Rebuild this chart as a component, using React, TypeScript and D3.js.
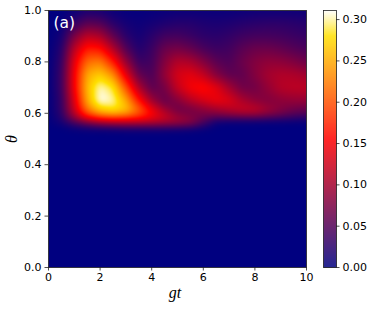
import { useEffect, useRef } from 'react';
import * as d3 from 'd3';

const gtValues = [0, 0.5, 1, 1.5, 2, 2.5, 3, 3.5, 4, 4.5, 5, 5.5, 6, 6.5, 7, 7.5, 8, 8.5, 9, 9.5, 10];
const thetaValues = [1, 0.95, 0.9, 0.85, 0.8, 0.75, 0.7, 0.65, 0.62, 0.6, 0.58, 0.56, 0.54, 0.52, 0];

// one row per theta, one column per gt
const row100 = [0, 0, 0.006, 0.014, 0.012, 0.006, 0.003, 0.003, 0.004, 0.005, 0.006, 0.006, 0.006, 0.006, 0.006, 0.007, 0.008, 0.008, 0.008, 0.008, 0.008];
const row95 = [0, 0.004, 0.03, 0.055, 0.05, 0.025, 0.012, 0.008, 0.012, 0.018, 0.022, 0.022, 0.018, 0.016, 0.018, 0.022, 0.025, 0.027, 0.027, 0.025, 0.022];
const row90 = [0, 0.012, 0.075, 0.115, 0.105, 0.06, 0.025, 0.012, 0.025, 0.04, 0.042, 0.035, 0.027, 0.025, 0.03, 0.038, 0.042, 0.042, 0.04, 0.036, 0.032];
const row85 = [0, 0.022, 0.115, 0.17, 0.165, 0.11, 0.05, 0.02, 0.035, 0.065, 0.072, 0.062, 0.045, 0.036, 0.04, 0.055, 0.065, 0.066, 0.06, 0.052, 0.045];
const row80 = [0, 0.03, 0.14, 0.215, 0.225, 0.17, 0.09, 0.035, 0.04, 0.08, 0.11, 0.105, 0.08, 0.055, 0.047, 0.065, 0.08, 0.088, 0.086, 0.078, 0.066];
const row75 = [0, 0.035, 0.15, 0.25, 0.27, 0.235, 0.14, 0.06, 0.045, 0.09, 0.13, 0.14, 0.12, 0.08, 0.058, 0.058, 0.08, 0.1, 0.108, 0.106, 0.098];
const row70 = [0, 0.035, 0.15, 0.26, 0.305, 0.285, 0.2, 0.105, 0.055, 0.07, 0.12, 0.15, 0.16, 0.14, 0.1, 0.068, 0.068, 0.09, 0.11, 0.115, 0.115];
const row65 = [0, 0.03, 0.135, 0.25, 0.312, 0.302, 0.25, 0.165, 0.095, 0.06, 0.08, 0.11, 0.13, 0.145, 0.135, 0.105, 0.085, 0.078, 0.085, 0.09, 0.09];
const row62 = [0, 0.03, 0.125, 0.225, 0.275, 0.285, 0.265, 0.205, 0.14, 0.09, 0.065, 0.075, 0.09, 0.105, 0.115, 0.12, 0.115, 0.095, 0.08, 0.07, 0.065];
const row60 = [0, 0.025, 0.11, 0.195, 0.24, 0.255, 0.24, 0.2, 0.155, 0.115, 0.08, 0.07, 0.075, 0.08, 0.09, 0.1, 0.1, 0.085, 0.07, 0.055, 0.05];
const row58 = [0, 0.02, 0.08, 0.135, 0.165, 0.175, 0.17, 0.16, 0.14, 0.12, 0.1, 0.085, 0.06, 0.04, 0.04, 0.04, 0.04, 0.035, 0.03, 0.025, 0.02];
const row56 = [0, 0.01, 0.035, 0.06, 0.08, 0.09, 0.095, 0.095, 0.095, 0.09, 0.085, 0.075, 0.04, 0.005, 0, 0, 0, 0, 0, 0, 0];
const row54 = [0, 0, 0.005, 0.01, 0.012, 0.015, 0.018, 0.018, 0.018, 0.018, 0.016, 0.012, 0.005, 0, 0, 0, 0, 0, 0, 0, 0];
const row52 = gtValues.map(() => 0);
const row0 = gtValues.map(() => 0);
const grid = [row100, row95, row90, row85, row80, row75, row70, row65, row62, row60, row58, row56, row54, row52, row0];

const colorStops = [0, 0.155, 0.28, 0.311];
const colorNames = ['#000080', '#ff0000', '#ffe000', '#ffffff'];

const xTicks = [0, 2, 4, 6, 8, 10];
const yTicks = [0, 0.2, 0.4, 0.6, 0.8, 1];
const barTicks = [0, 0.05, 0.1, 0.15, 0.2, 0.25, 0.3];

const font = '"DejaVu Sans"';
const mathFont = '"Liberation Serif"';

const gtIndex = d3.scaleLinear().domain(gtValues).range(gtValues.map((_, i) => i)).clamp(true);
const thetaIndex = d3.scaleLinear().domain(thetaValues).range(thetaValues.map((_, i) => i)).clamp(true);

function sample(gt: number, theta: number) {
  const xp = gtIndex(gt);
  const yp = thetaIndex(theta);
  const i0 = Math.min(Math.floor(xp), gtValues.length - 2);
  const j0 = Math.min(Math.floor(yp), thetaValues.length - 2);
  const top = d3.interpolateNumber(grid[j0][i0], grid[j0][i0 + 1])(xp - i0);
  const bottom = d3.interpolateNumber(grid[j0 + 1][i0], grid[j0 + 1][i0 + 1])(xp - i0);
  return d3.interpolateNumber(top, bottom)(yp - j0);
}

export default function App() {
  const svgRef = useRef<SVGSVGElement>(null);

  useEffect(() => {
    const svg = d3.select(svgRef.current);
    svg.selectAll('*').remove();

    const left = 48;
    const top = 10;
    const width = 258;
    const height = 257;

    const x = d3.scaleLinear().domain([0, 10]).range([0, width]);
    const y = d3.scaleLinear().domain([0, 1]).range([height, 0]);
    const color = d3.scaleLinear<string>().domain(colorStops).range(colorNames).clamp(true);

    // sample the field per pixel and smooth it, like imshow with interpolation
    const field = new Float64Array(width * height);
    for (let py = 0; py < height; py++) {
      for (let px = 0; px < width; px++) {
        field[py * width + px] = sample(x.invert(px + 0.5), y.invert(py + 0.5));
      }
    }
    d3.blur2({ data: field, width, height }, 2.5);

    const raw = document.createElement('canvas');
    raw.width = width;
    raw.height = height;
    const rawCtx = raw.getContext('2d')!;
    const img = rawCtx.createImageData(width, height);
    field.forEach((v, i) => {
      const c = d3.rgb(color(v));
      img.data[i * 4] = c.r;
      img.data[i * 4 + 1] = c.g;
      img.data[i * 4 + 2] = c.b;
      img.data[i * 4 + 3] = 255;
    });
    rawCtx.putImageData(img, 0, 0);

    const g = svg.append('g').attr('transform', `translate(${left},${top})`);
    g.append('image')
      .attr('x', 0.5)
      .attr('y', 0.5)
      .attr('width', width)
      .attr('height', height)
      .attr('href', raw.toDataURL());

    g.append('rect')
      .attr('x', 0.5)
      .attr('y', 0.5)
      .attr('width', width)
      .attr('height', height)
      .attr('fill', 'none')
      .attr('stroke', '#222')
      .attr('stroke-width', 0.8);

    const styleAxis = (a: d3.Selection<SVGGElement, unknown, null, undefined>) => {
      a.select('.domain').remove();
      a.selectAll('line').attr('stroke', '#222').attr('stroke-width', 0.8);
      a.selectAll('text').attr('font-family', font).attr('font-size', 11).attr('fill', '#000');
    };

    g.append('g')
      .attr('transform', `translate(0,${height})`)
      .call(d3.axisBottom(x).tickValues(xTicks).tickSize(3.5).tickPadding(3).tickFormat(d3.format('d') as any))
      .call(styleAxis);

    g.append('g')
      .call(d3.axisLeft(y).tickValues(yTicks).tickSize(3.5).tickPadding(3).tickFormat(d3.format('.1f') as any))
      .call(styleAxis);

    g.append('text')
      .attr('x', 5.5)
      .attr('y', 17.5)
      .attr('fill', '#fff')
      .attr('font-family', font)
      .attr('font-size', 15.5)
      .text('(a)');

    svg.append('text')
      .attr('transform', 'translate(17,139) rotate(-90)')
      .attr('text-anchor', 'middle')
      .attr('font-family', mathFont)
      .attr('font-style', 'italic')
      .attr('font-size', 16)
      .text('θ');

    svg.append('text')
      .attr('x', 175)
      .attr('y', 298)
      .attr('text-anchor', 'middle')
      .attr('font-family', mathFont)
      .attr('font-style', 'italic')
      .attr('font-size', 16)
      .text('gt');

    // colorbar
    const barWidth = 13;
    const bar = svg.append('g').attr('transform', `translate(323,${top})`);
    const cb = d3.scaleLinear().domain([0, 0.311]).range([height, 0]);
    bar.selectAll('rect.step')
      .data(d3.range(0, height))
      .enter().append('rect')
      .attr('class', 'step')
      .attr('x', 0.5)
      .attr('y', d => d + 0.5)
      .attr('width', barWidth)
      .attr('height', 1.2)
      .attr('fill', d => color(cb.invert(d + 0.5)));
    bar.append('rect')
      .attr('x', 0.5)
      .attr('y', 0.5)
      .attr('width', barWidth)
      .attr('height', height)
      .attr('fill', 'none')
      .attr('stroke', '#222')
      .attr('stroke-width', 0.8);
    bar.append('g')
      .attr('transform', `translate(${barWidth},0)`)
      .call(d3.axisRight(cb).tickValues(barTicks).tickSize(3.5).tickPadding(3).tickFormat(d3.format('.2f') as any))
      .call(styleAxis);
  }, []);

  return <svg ref={svgRef} width={374} height={309} style={{ position: 'absolute', left: 0, top: 0 }} />;
}
